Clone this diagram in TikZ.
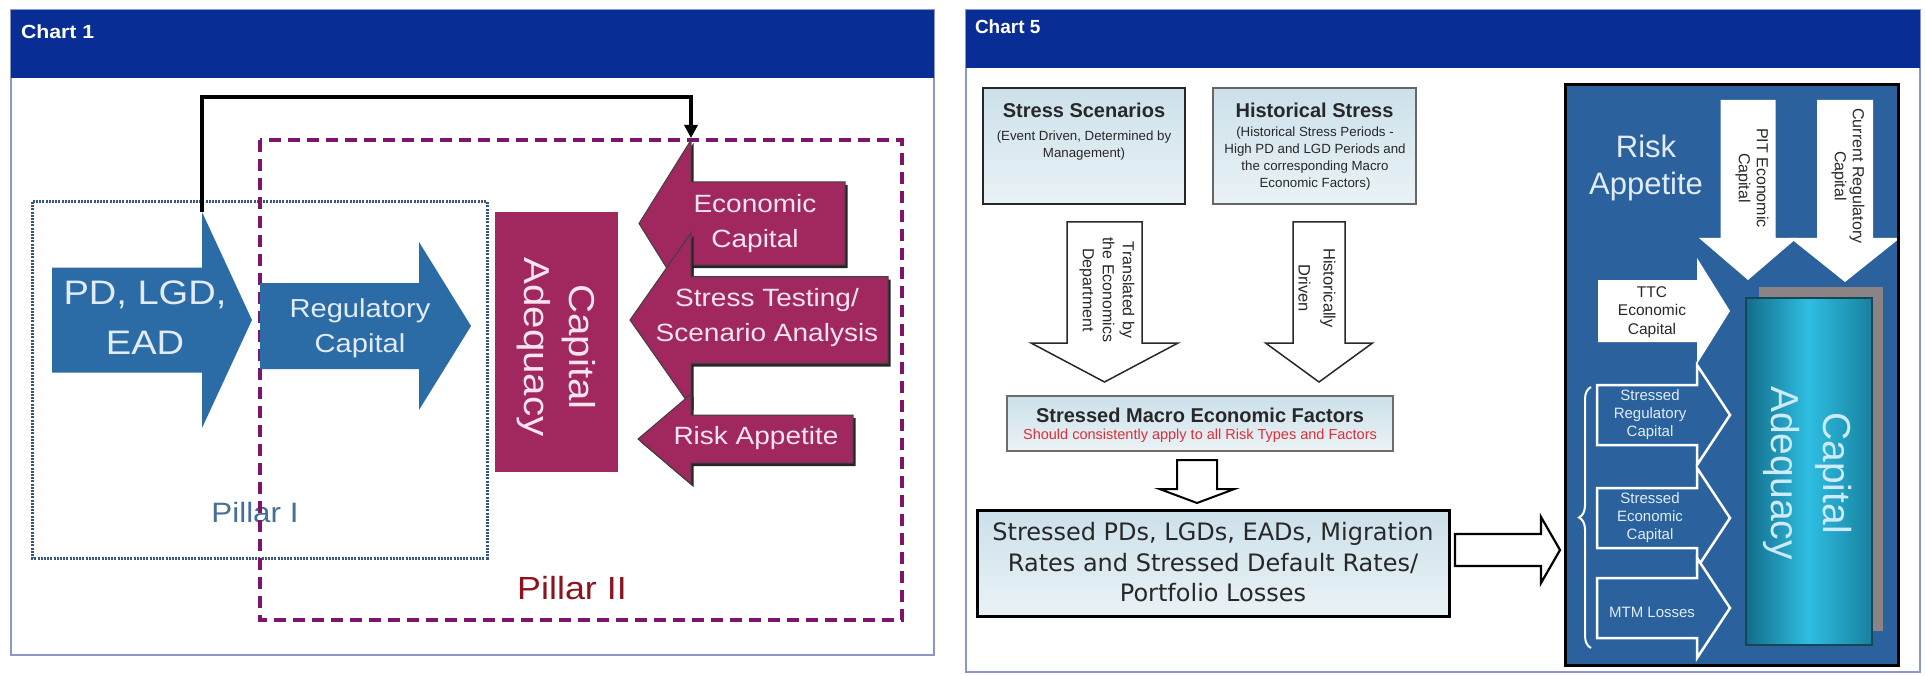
\documentclass[tikz,border=0pt]{standalone}
\usepackage{fontspec}
\setmainfont{Liberation Sans}
\newfontfamily\widesans[FakeStretch=1.12]{Liberation Sans}
\newfontfamily\versans{DejaVu Sans}
\usetikzlibrary{arrows.meta,shadows,decorations.pathreplacing}

\newcommand\setfs[2]{\fontsize{#1}{#2}\selectfont}

\definecolor{hdrblue}{RGB}{8,46,150}
\definecolor{framelav}{RGB}{140,150,205}
\definecolor{steel}{RGB}{44,108,166}
\definecolor{wine}{RGB}{160,40,95}
\definecolor{winetext}{RGB}{248,228,238}
\definecolor{pIline}{RGB}{55,85,125}
\definecolor{pItext}{RGB}{70,110,150}
\definecolor{pIIline}{RGB}{125,20,110}
\definecolor{pIItext}{RGB}{140,20,30}
\definecolor{panelblue}{RGB}{43,98,158}
\definecolor{paletop}{RGB}{204,224,234}
\definecolor{palebot}{RGB}{234,243,246}
\definecolor{softwhite}{RGB}{225,236,248}
\definecolor{tealdark}{RGB}{20,108,138}
\definecolor{tealmid}{RGB}{46,190,226}
\definecolor{tealright}{RGB}{24,128,158}
\definecolor{tealedge}{RGB}{20,70,90}
\definecolor{textgrey}{RGB}{40,40,40}
\definecolor{alertred}{RGB}{225,45,55}
\definecolor{shadegrey}{RGB}{140,132,132}

% horizontal block arrow: start x, head base x, tip x, centre y, half body, half head
\newcommand\hblock[7][]{\path[#1] (#2,#5-#6) -- (#3,#5-#6) -- (#3,#5-#7) -- (#4,#5) -- (#3,#5+#7) -- (#3,#5+#6) -- (#2,#5+#6) -- cycle;}
% vertical block arrow: centre x, start y, head base y, tip y, half body, half head
\newcommand\vblock[7][]{\path[#1] (#2-#6,#3) -- (#2-#6,#4) -- (#2-#7,#4) -- (#2,#5) -- (#2+#7,#4) -- (#2+#6,#4) -- (#2+#6,#3) -- cycle;}

\tikzset{
  charttitle/.style={anchor=west, text=white},
  palebox/.style={draw=textgrey, line width=2pt, top color=paletop, bottom color=palebot},
  heading/.style={text=textgrey, font=\bfseries\setfs{20}{24}},
  smallnote/.style={text=textgrey, font=\setfs{13.3}{17}},
  outlinearrow/.style={fill=white, draw=#1, line width=1.8pt},
  chevron/.style={fill=panelblue, draw=white, line width=2.5pt},
  paletext/.style={text=softwhite, font=\setfs{15}{18}},
  wineshape/.style={fill=wine, draw=black!75, line width=1pt, drop shadow={shadow xshift=2.5pt, shadow yshift=-3pt, fill=black!85, opacity=1}},
  winelabel/.style={text=winetext, font=\widesans\setfs{25}{35}},
}

\begin{document}
\begin{tikzpicture}[x=1pt, y=-1pt, every node/.style={inner sep=0pt, outer sep=0pt, align=center}]
\useasboundingbox (0,0) rectangle (1926,676);
\fill[white] (0,0) rectangle (1926,676);

% ================= Chart 1 =================
\draw[framelav, line width=1.5pt] (11,10) rectangle (934,655);
\fill[hdrblue] (11,10) rectangle (934,78);
\node[charttitle, font=\widesans\bfseries\setfs{19}{22}] (chartone) at (21,32) {Chart 1};

% pillar frames
\node[text=pItext, font=\widesans\setfs{28}{32}] (pillarone) at (255,512) {Pillar I};
\draw[pIline, line width=3pt, dash pattern=on 2pt off 1.2pt] (32,202) rectangle (487,558);
\draw[pIIline, line width=4pt, dash pattern=on 12pt off 7pt] (260,140) rectangle (902,620);
\node[text=pIItext, font=\widesans\setfs{32}{36}] (pillartwo) at (572,588) {Pillar II};

% Pillar I inputs
\hblock[fill=steel]{52}{202}{252}{320}{52.5}{108}
\hblock[fill=steel]{260}{419}{471}{326}{43}{84}
\node[text=softwhite, font=\widesans\setfs{34}{50}] (pdlgd) at (145,318) {PD, LGD,\\EAD};
\node[text=softwhite, font=\widesans\setfs{26}{35}] (regcap) at (360,328) {Regulatory\\Capital};

% capital adequacy block
\fill[wine] (495,212) rectangle (618,472);
\node[rotate=-90, text=winetext, font=\widesans\setfs{36}{45}] (capadq) at (556,347) {Capital\\Adequacy};

% Pillar II inputs
\hblock[wineshape]{845}{691}{639}{223.5}{41.5}{83.5}
\hblock[wineshape]{888}{691}{630}{320}{43.5}{87}
\hblock[wineshape]{853}{691}{638}{439}{24}{45}
\node[winelabel] (ecocap) at (755,224) {Economic\\Capital};
\node[winelabel] (stresstest) at (767,318) {Stress Testing/\\Scenario Analysis};
\node[winelabel] (riskapp) at (756,438) {Risk Appetite};

% feedback loop from the PD arrow to economic capital
\coordinate (pdtop) at (202,212);
\coordinate (loopcorner) at (202,97);
\coordinate (ecotop) at (691,140);
\draw[line width=4pt, -{Triangle[length=13pt,width=13pt]}, shorten >=2pt] (pdtop) -- (loopcorner) -| (ecotop);

% ================= Chart 5 =================
\draw[framelav, line width=1.5pt] (966,10) rectangle (1920,672);
\fill[hdrblue] (966,10) rectangle (1920,68);
\node[charttitle, font=\bfseries\setfs{19}{22}] (chartfive) at (975,27) {Chart 5};

% scenario sources
\node[palebox, minimum width=202, minimum height=116] (scenbox) at (1084,146) {};
\node[heading] (scentitle) at (1084,110) {Stress Scenarios};
\node[smallnote] (scennote) at (1084,145.5) {(Event Driven, Determined by\\Management)};

\node[palebox, draw=gray!80!black, minimum width=203, minimum height=116] (histbox) at (1314.5,146) {};
\node[heading] (histtitle) at (1314.5,110) {Historical Stress};
\node[smallnote] (histnote) at (1315,158.5) {(Historical Stress Periods -\\High PD and LGD Periods and\\the corresponding Macro\\Economic Factors)};

% translation arrows
\vblock[outlinearrow=textgrey, line width=1.5pt]{1104.5}{222}{343}{382}{37.5}{73.5}
\node[rotate=-90, text=textgrey, font=\setfs{16}{20}] (transl) at (1107,290) {Translated by\\the Economics\\Department};
\vblock[outlinearrow=textgrey, line width=1.5pt]{1319}{222}{343}{382}{26}{53.5}
\node[rotate=-90, text=textgrey, font=\setfs{16.5}{25}] (histdrv) at (1317,288) {Historically\\Driven};

% stressed macro factors
\node[palebox, draw=gray!85!black, line width=1.6pt, minimum width=386, minimum height=55] (macrobox) at (1200,423.5) {};
\node[heading] (macrotitle) at (1200,415) {Stressed Macro Economic Factors};
\node[text=alertred, font=\setfs{14.5}{17}] (macronote) at (1200,436) {Should consistently apply to all Risk Types and Factors};

\vblock[outlinearrow=black, line width=2pt]{1197}{460}{489}{503}{20}{37.5}

% stressed parameters
\node[palebox, draw=black, line width=3pt, minimum width=472, minimum height=106] (parambox) at (1213,563) {};
\node[text=textgrey, font=\versans\setfs{24}{30.5}] (paramtext) at (1213,562.5) {Stressed PDs, LGDs, EADs, Migration\\Rates and Stressed Default Rates/\\Portfolio Losses};

\hblock[outlinearrow=black, line width=2.2pt]{1455}{1541}{1560}{550}{16}{33}

% risk appetite panel
\node[fill=panelblue, minimum width=333, minimum height=580] (panel) at (1731.5,375) {};
\node[text=softwhite, font=\setfs{31}{37}] (riskappetite) at (1646,168) {Risk\\Appetite};

\fill[shadegrey] (1759,287) rectangle (1883,631);
\node[draw=tealedge, line width=2pt, left color=tealdark, right color=tealright, middle color=tealmid, minimum width=126, minimum height=347] (adqbar) at (1809,471.5) {};
\node[rotate=-90, text={rgb,255:red,205;green,235;blue,250}, font=\setfs{39}{52}] (adqtext) at (1808,473) {Capital\\Adequacy};

\vblock[fill=white]{1748}{100}{238}{280}{27.5}{49}
\vblock[fill=white]{1845}{100}{238}{282}{28}{55}
\node[rotate=-90, text=textgrey, font=\setfs{16}{18}] (pitcap) at (1752,178) {PIT Economic\\Capital};
\node[rotate=-90, text=textgrey, font=\setfs{16}{18}] (curreg) at (1848,176) {Current Regulatory\\Capital};

\hblock[fill=white]{1598}{1697}{1730}{311}{31}{53}
\node[text=textgrey, font=\setfs{15.5}{18.5}] (ttccap) at (1652,312) {TTC\\Economic\\Capital};

\hblock[chevron]{1597}{1697}{1730}{415}{30}{50}
\hblock[chevron]{1597}{1697}{1730}{518}{30}{50}
\hblock[chevron]{1597}{1697}{1730}{608}{30}{50}
\node[paletext] (streg) at (1650,415) {Stressed\\Regulatory\\Capital};
\node[paletext] (stecon) at (1650,518) {Stressed\\Economic\\Capital};
\node[paletext] (mtm) at (1652,612) {MTM Losses};

\coordinate (bracebot) at (1591,648);
\coordinate (bracetop) at (1591,387);
\draw[white, line width=2pt, decorate, decoration={brace, amplitude=12pt}] (bracebot) -- (bracetop);

\draw[black, line width=3pt] (panel.south west) rectangle (panel.north east);
\end{tikzpicture}
\end{document}
